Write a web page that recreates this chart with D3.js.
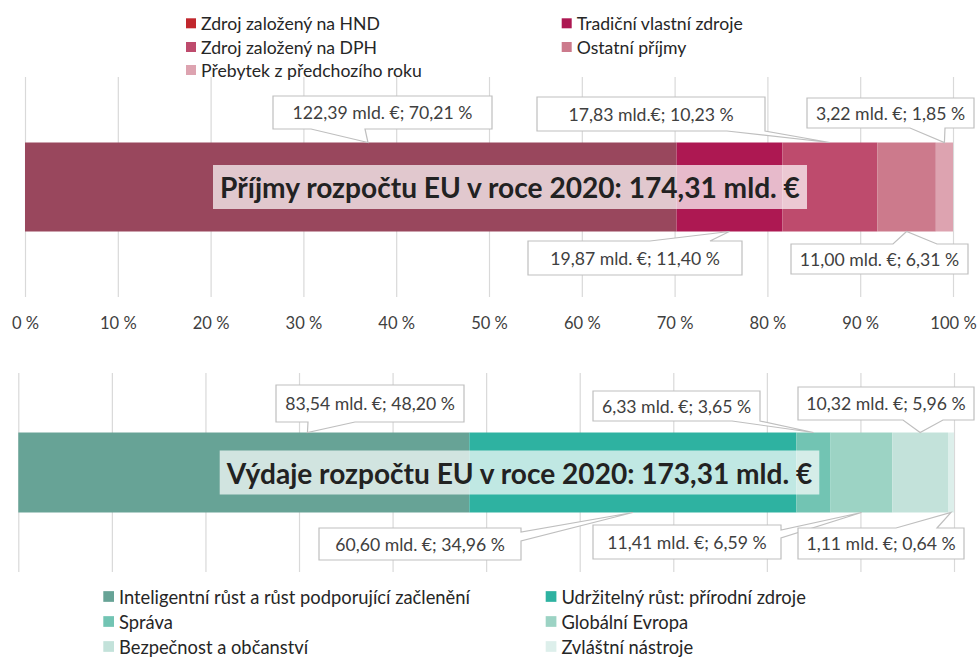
<!DOCTYPE html>
<html><head><meta charset="utf-8">
<script src="https://cdn.jsdelivr.net/npm/d3@7"></script>
<style>
body{margin:0;background:#fff}
svg{display:block}
text{font-family:Lato,"Open Sans","Noto Sans",sans-serif}
</style>
</head><body>
<svg id="chart" width="977" height="657"></svg>
<script>
// ---------- DATA ----------
const revenueCategories = ["Zdroj založený na HND","Tradiční vlastní zdroje","Zdroj založený na DPH","Ostatní příjmy","Přebytek z předchozího roku"];
const revenueValues = [122.39, 19.87, 17.83, 11.00, 3.22];      // mld. €
const revenueShares = [70.21, 11.40, 10.23, 6.31, 1.85];        // %
const revenueUnits  = ["mld. €","mld. €","mld.€","mld. €","mld. €"];
const revenueTotal = 174.31;
const revenueTitle = "Příjmy rozpočtu EU v roce 2020";

const expenditureCategories = ["Inteligentní růst a růst podporující začlenění","Udržitelný růst: přírodní zdroje","Správa","Globální Evropa","Bezpečnost a občanství","Zvláštní nástroje"];
const expenditureValues = [83.54, 60.60, 6.33, 11.41, 10.32, 1.11];
const expenditureShares = [48.20, 34.96, 3.65, 6.59, 5.96, 0.64];
const expenditureUnits  = ["mld. €","mld. €","mld. €","mld. €","mld. €","mld. €"];
const expenditureTotal = 173.31;
const expenditureTitle = "Výdaje rozpočtu EU v roce 2020";

const axisTicks = [0,10,20,30,40,50,60,70,80,90,100];

// ---------- STYLE / LAYOUT ----------
const revenueBarColors    = ["#99475D","#AD1852","#BE4B6D","#CC7A8C","#DDA3B0"];
const revenueLegendColors = ["#C1272D","#AD1852","#BE4B6D","#CC7A8C","#DDA3B0"];
const expenditureColors   = ["#67A396","#2EB2A1","#72C4B3","#9CD3C4","#C3E2DA","#DDEFEB"];

// callout layout: box [left,top,right,bottom], side of wedge, wedge base, optional tip position (%)
const revenueCallouts = [
  {box:[273,96,492,129], side:"bottom", base:[311,365], tipPct:36.96},
  {box:[528,241,742,275], side:"top", base:[650,710]},
  {box:[537,97,765,131], side:"bottom", base:[727,765]},
  {box:[791,244,968,274], side:"top", base:[893,937]},
  {box:[807,98,974,128], side:"bottom", base:[910,945]}
];
const expenditureCallouts = [
  {box:[276,385,464,422], side:"bottom", base:[308,355], tipPct:30.9},
  {box:[319,528,521,560], side:"right", base:[532,541]},
  {box:[593,391,760,421], side:"bottom", base:[732,760]},
  {box:[593,525,781,559], side:"right", base:[530,538]},
  {box:[798,387,974,420], side:"bottom", base:[903,943]},
  {box:[798,528,964,559], side:"top", base:[896,937]}
];

const svg = d3.select("#chart");
const loc = d3.formatLocale({decimal:",", thousands:"\u00a0", grouping:[3], currency:["","€"]});
const f2 = loc.format(".2f");

function sizeFor(str, target, weight){
  const t = svg.append("text").attr("font-size",100).attr("font-weight",weight||400).text(str);
  const w = t.node().getComputedTextLength(); t.remove();
  return 100*target/w;
}
const labelFS = sizeFor("122,39 mld. €; 70,21 %", 180);
const topLegFS = sizeFor("Zdroj založený na HND", 179);
const botLegFS = sizeFor("Inteligentní růst a růst podporující začlenění", 351);
const tickFS = sizeFor("10 %", 36.7);

function calloutPath(b, side, base, tip){
  const [L,T,R,B] = b;
  if(side==="bottom") return `M${L},${T}H${R}V${B}H${base[1]}L${tip[0]},${tip[1]}L${base[0]},${B}H${L}Z`;
  if(side==="top") return `M${L},${T}H${base[0]}L${tip[0]},${tip[1]}L${base[1]},${T}H${R}V${B}H${L}Z`;
  return `M${L},${T}H${R}V${base[0]}L${tip[0]},${tip[1]}L${R},${base[1]}V${B}H${L}Z`;
}

function drawChart(opts){
  const {cats, values, shares, units, colors, xRange, yRange, outerPad, callouts, title, total, titleCx, titleW} = opts;
  const g = svg.append("g");
  const x = d3.scaleLinear().domain([0,100]).range(xRange);
  const y = d3.scaleBand().domain(["bar"]).range(yRange).paddingInner(0).paddingOuter(outerPad);

  // gridlines
  const grid = g.append("g").attr("transform",`translate(0,${yRange[1]})`)
    .call(d3.axisBottom(x).tickValues(axisTicks).tickSize(-(yRange[1]-yRange[0])).tickFormat(""));
  grid.select(".domain").remove();
  grid.selectAll(".tick line").attr("stroke","#D9D9D9").attr("stroke-width",1.2);

  // stack
  const row = {}; cats.forEach((c,i)=>row[c]=shares[i]);
  const series = d3.stack().keys(cats)([row]);
  g.append("g").selectAll("rect").data(series).join("rect")
    .attr("x", d=>x(d[0][0])).attr("width", d=>x(d[0][1])-x(d[0][0]))
    .attr("y", y("bar")).attr("height", y.bandwidth())
    .attr("fill", (d,i)=>colors[i]);

  // title box
  const cy = y("bar") + y.bandwidth()/2;
  const tStr = `${title}: ${f2(total)} mld. €`;
  const tFS = sizeFor(tStr, titleW, 700);
  g.append("rect").attr("x", titleCx - titleW/2 - 7).attr("y", cy-22)
    .attr("width", titleW+14).attr("height", 44).attr("fill","#fff").attr("fill-opacity",0.7);
  g.append("text").attr("x",titleCx).attr("y",cy).attr("text-anchor","middle")
    .attr("dominant-baseline","central").attr("font-weight",700).attr("font-size",tFS)
    .attr("fill","#222").text(tStr);

  // callouts
  const cg = g.append("g");
  series.forEach((s,i)=>{
    const c = callouts[i];
    const tipX = c.tipPct!=null ? x(c.tipPct) : (x(s[0][0])+x(s[0][1]))/2;
    const tipY = c.side==="bottom" ? y("bar") : y("bar")+y.bandwidth();
    cg.append("path").attr("d", calloutPath(c.box, c.side, c.base, [tipX,tipY]))
      .attr("fill","#fff").attr("stroke","#BFBFBF").attr("stroke-width",1.2);
    cg.append("text").attr("x",(c.box[0]+c.box[2])/2).attr("y",(c.box[1]+c.box[3])/2)
      .attr("text-anchor","middle").attr("dominant-baseline","central")
      .attr("font-size",labelFS).attr("fill","#404040")
      .text(`${f2(values[i])} ${units[i]}; ${f2(shares[i])} %`);
  });
  return x;
}

const xTop = drawChart({cats:revenueCategories, values:revenueValues, shares:revenueShares, units:revenueUnits,
  colors:revenueBarColors, xRange:[25,953], yRange:[77,297], outerPad:0.736, callouts:revenueCallouts,
  title:revenueTitle, total:revenueTotal, titleCx:510, titleW:580});

drawChart({cats:expenditureCategories, values:expenditureValues, shares:expenditureShares, units:expenditureUnits,
  colors:expenditureColors, xRange:[18.3,954], yRange:[373,572], outerPad:0.744, callouts:expenditureCallouts,
  title:expenditureTitle, total:expenditureTotal, titleCx:519.5, titleW:585.6});

// axis labels (top chart)
const ax = svg.append("g").attr("transform","translate(0,323)")
  .call(d3.axisBottom(xTop).tickValues(axisTicks).tickSize(0).tickPadding(0).tickFormat(d=>d+" %"));
ax.select(".domain").remove();
ax.selectAll("text").attr("y",0).attr("dy",null).attr("dominant-baseline","central")
  .attr("font-size",tickFS).attr("font-family","Lato,'Open Sans',sans-serif").attr("fill","#404040");

// legends
function legend(cats, colors, cols, rows, size, fs){
  const lg = svg.append("g");
  const items = lg.selectAll("g").data(cats).join("g")
    .attr("transform",(d,i)=>`translate(${cols[i%2]},${rows[Math.floor(i/2)]})`);
  items.append("rect").attr("x",0).attr("y",-size/2).attr("width",size).attr("height",size)
    .attr("fill",(d,i)=>colors[i]);
  items.append("text").attr("x",size+5).attr("y",0).attr("dominant-baseline","central")
    .attr("font-size",fs).attr("fill","#262626").text(d=>d);
}
legend(revenueCategories, revenueLegendColors, [186,561.7], [23.3,47,70], 10, topLegFS);
legend(expenditureCategories, expenditureColors, [103.3,545.7], [596.5,621.5,646.5], 10.7, botLegFS);
</script>
</body></html>
